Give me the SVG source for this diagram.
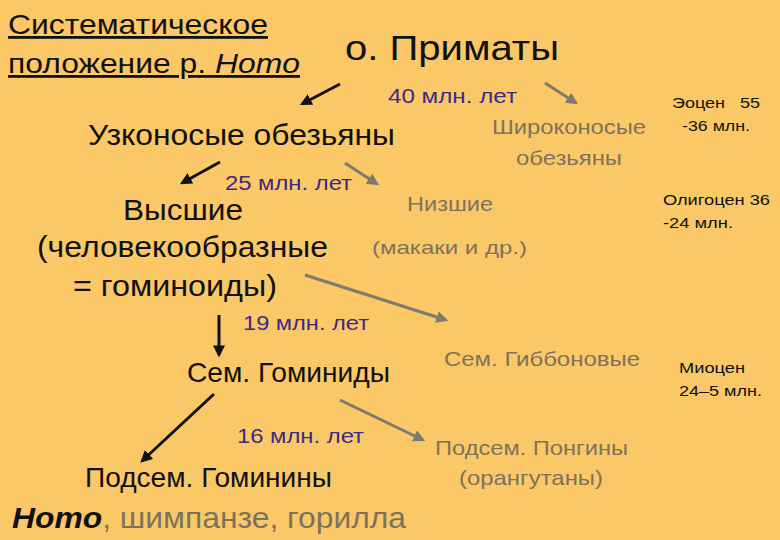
<svg xmlns="http://www.w3.org/2000/svg" width="780" height="540" viewBox="0 0 780 540">
<defs>
<style>
text{font-family:"Liberation Sans",Arial,sans-serif}
.k{fill:#111}
.g{fill:#7d735d}
.p{fill:#3b2a86;font-size:20px}
.e{fill:#111;font-size:15px}
.ab{stroke:#111;stroke-width:3;fill:none}
.ag{stroke:#7d7a6e;stroke-width:3;fill:none}
</style>
<marker id="mb" viewBox="0 0 10 10" refX="8" refY="5" markerWidth="4" markerHeight="4" orient="auto" markerUnits="strokeWidth"><path d="M0,0L10,5L0,10z" fill="#111"/></marker>
<marker id="mg" viewBox="0 0 10 10" refX="8" refY="5" markerWidth="4" markerHeight="4" orient="auto" markerUnits="strokeWidth"><path d="M0,0L10,5L0,10z" fill="#7d7a6e"/></marker>
</defs>
<rect width="780" height="540" fill="#fbc867"/>
<g id="title">
<text x="8" y="34" font-size="28" class="k" text-decoration="underline" textLength="260" lengthAdjust="spacingAndGlyphs">Систематическое</text>
<text x="8" y="73" font-size="28" class="k" text-decoration="underline" textLength="292" lengthAdjust="spacingAndGlyphs">положение р. <tspan font-style="italic">Homo</tspan></text>
</g>
<g id="connectors">
<line class="ab" x1="340" y1="84" x2="302" y2="104" marker-end="url(#mb)"/>
<line class="ag" x1="545" y1="83" x2="576" y2="103" marker-end="url(#mg)"/>
<line class="ab" x1="220" y1="162" x2="182" y2="183" marker-end="url(#mb)"/>
<line class="ag" x1="345" y1="163" x2="377" y2="184" marker-end="url(#mg)"/>
<line class="ag" x1="305" y1="275" x2="446" y2="320" marker-end="url(#mg)"/>
<line class="ab" x1="219" y1="315" x2="219" y2="355" marker-end="url(#mb)"/>
<line class="ab" x1="214" y1="394" x2="142" y2="461" marker-end="url(#mb)"/>
<line class="ag" x1="340" y1="400" x2="423" y2="440" marker-end="url(#mg)"/>
</g>
<g id="primates"><text x="345" y="60" font-size="35" class="k" textLength="214" lengthAdjust="spacingAndGlyphs">о. Приматы</text></g>
<g id="l40"><text x="388" y="103" class="p" textLength="129" lengthAdjust="spacingAndGlyphs">40 млн. лет</text></g>
<g id="catarrhini"><text x="88" y="145" font-size="30" class="k" textLength="307" lengthAdjust="spacingAndGlyphs">Узконосые обезьяны</text></g>
<g id="platyrrhini" class="g" font-size="21"><text x="492" y="134" textLength="154" lengthAdjust="spacingAndGlyphs">Широконосые</text><text x="516" y="165" textLength="106" lengthAdjust="spacingAndGlyphs">обезьяны</text></g>
<g id="eocene"><text x="672" y="108" class="e" xml:space="preserve" textLength="88" lengthAdjust="spacingAndGlyphs">Эоцен   55</text><text x="682" y="131" class="e" textLength="68" lengthAdjust="spacingAndGlyphs">-36 млн.</text></g>
<g id="l25"><text x="225" y="190" class="p" textLength="127" lengthAdjust="spacingAndGlyphs">25 млн. лет</text></g>
<g id="higher" font-size="29" class="k"><text x="123" y="220" textLength="120" lengthAdjust="spacingAndGlyphs">Высшие</text><text x="37" y="257" textLength="291" lengthAdjust="spacingAndGlyphs">(человекообразные</text><text x="73" y="296" textLength="204" lengthAdjust="spacingAndGlyphs">= гоминоиды)</text></g>
<g id="lower" class="g"><text x="407" y="211" font-size="21" textLength="86" lengthAdjust="spacingAndGlyphs">Низшие</text><text x="372" y="254" font-size="19" textLength="155" lengthAdjust="spacingAndGlyphs">(макаки и др.)</text></g>
<g id="oligocene"><text x="663" y="205" class="e" textLength="107" lengthAdjust="spacingAndGlyphs">Олигоцен 36</text><text x="663" y="228" class="e" textLength="70" lengthAdjust="spacingAndGlyphs">-24 млн.</text></g>
<g id="l19"><text x="243" y="330" class="p" textLength="126" lengthAdjust="spacingAndGlyphs">19 млн. лет</text></g>
<g id="hominidae"><text x="187" y="382" font-size="28" class="k" textLength="203" lengthAdjust="spacingAndGlyphs">Сем. Гоминиды</text></g>
<g id="hylobatidae"><text x="444" y="366" font-size="21" class="g" textLength="196" lengthAdjust="spacingAndGlyphs">Сем. Гиббоновые</text></g>
<g id="miocene"><text x="679" y="373" class="e" textLength="66" lengthAdjust="spacingAndGlyphs">Миоцен</text><text x="679" y="396" class="e" textLength="83" lengthAdjust="spacingAndGlyphs">24–5 млн.</text></g>
<g id="l16"><text x="237" y="443" class="p" textLength="127" lengthAdjust="spacingAndGlyphs">16 млн. лет</text></g>
<g id="ponginae" class="g" font-size="21"><text x="435" y="455" textLength="193" lengthAdjust="spacingAndGlyphs">Подсем. Понгины</text><text x="459" y="485" textLength="144" lengthAdjust="spacingAndGlyphs">(орангутаны)</text></g>
<g id="homininae"><text x="85" y="487" font-size="28" class="k" textLength="247" lengthAdjust="spacingAndGlyphs">Подсем. Гоминины</text></g>
<g id="members"><text x="12" y="528" font-size="30" class="g" textLength="394" lengthAdjust="spacingAndGlyphs"><tspan class="k" font-weight="bold" font-style="italic">Homo</tspan>, шимпанзе, горилла</text></g>
</svg>
